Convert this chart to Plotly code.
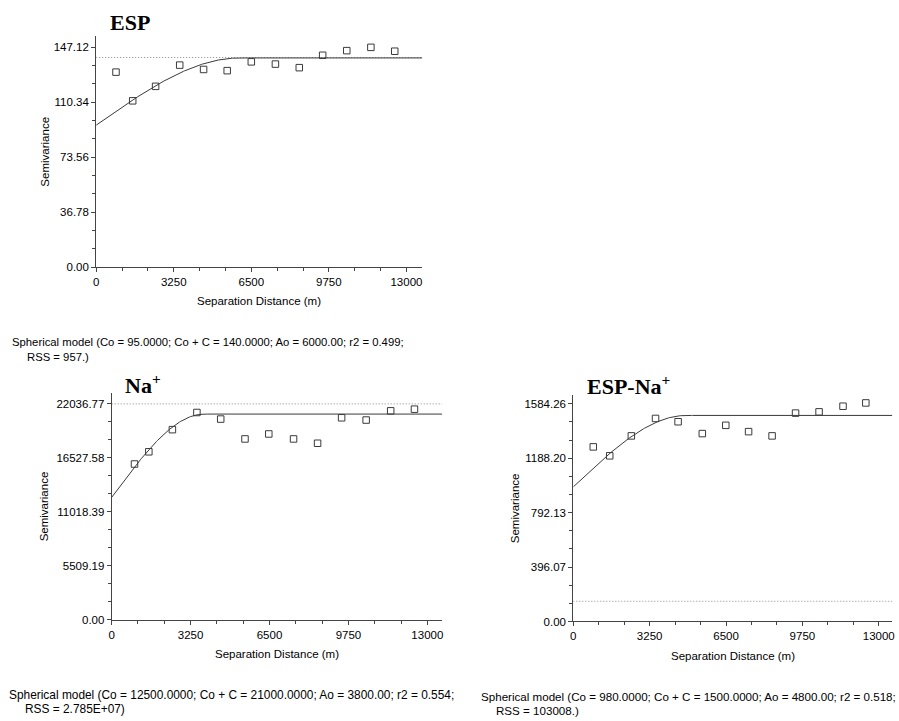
import numpy as np
import plotly.graph_objects as go

W, H = 899, 721

# ---- data ----
esp_lag = [830, 1530, 2490, 3500, 4500, 5490, 6500, 7510, 8510, 9490, 10500, 11510, 12510]
esp_gamma = [130.5, 111.3, 121.0, 135.2, 132.3, 131.5, 137.4, 135.9, 133.5, 141.8, 144.9, 147.1, 144.5]

na_lag = [940, 1530, 2500, 3510, 4490, 5490, 6470, 7490, 8480, 9470, 10480, 11490, 12470]
na_gamma = [15900, 17150, 19410, 21160, 20490, 18460, 18970, 18460, 18020, 20620, 20390, 21330, 21500]

espna_lag = [850, 1550, 2470, 3500, 4460, 5490, 6490, 7460, 8460, 9460, 10460, 11480, 12450]
espna_gamma = [1271, 1206, 1351, 1478, 1454, 1368, 1428, 1382, 1351, 1517, 1526, 1567, 1591]

# model parameters (from captions): nugget Co, sill Co+C, range Ao
esp_model = (95.0, 140.0, 6000.0)
na_model = (12500.0, 21000.0, 3800.0)
espna_model = (980.0, 1500.0, 4800.0)

# sample variance (dotted line)
esp_var = 140.3
na_var = 22040.0
espna_var = 147.0

x_ticks = [0, 3250, 6500, 9750, 13000]
esp_yticks = [0.00, 36.78, 73.56, 110.34, 147.12]
na_yticks = [0.00, 5509.19, 11018.39, 16527.58, 22036.77]
espna_yticks = [0.00, 396.07, 792.13, 1188.20, 1584.26]

titles = ["ESP", "Na<sup>+</sup>", "ESP-Na<sup>+</sup>"]
captions = [
    ("Spherical model (Co = 95.0000; Co + C = 140.0000; Ao = 6000.00; r2 = 0.499;", "RSS = 957.)"),
    ("Spherical model (Co = 12500.0000; Co + C = 21000.0000; Ao = 3800.00; r2 = 0.554;", "RSS = 2.785E+07)"),
    ("Spherical model (Co = 980.0000; Co + C = 1500.0000; Ao = 4800.00; r2 = 0.518;", "RSS = 103008.)"),
]

# ---- layout geometry (pixels) ----
panels = [
    dict(lag=esp_lag, g=esp_gamma, model=esp_model, var=esp_var, yt=esp_yticks,
         px=(93.7, 421.7), py=(36, 269.3), xmax=13667, ymax=154.9,
         title_xy=(106, 23), cap=(7, 344.5, 22, 359.5), capsize=11.3, ylab_x=42.5, xlab_y=303.5),
    dict(lag=na_lag, g=na_gamma, model=na_model, var=na_var, yt=na_yticks,
         px=(109.3, 441.7), py=(396.7, 625), xmax=13614, ymax=23110,
         title_xy=(121, 387), cap=(4, 701, 20, 714.5), capsize=11.9, ylab_x=41, xlab_y=659.5),
    dict(lag=espna_lag, g=espna_gamma, model=espna_model, var=espna_var, yt=espna_yticks,
         px=(573.5, 894.3), py=(398, 626.7), xmax=13578, ymax=1651,
         title_xy=(585, 388), cap=(478.5, 702.5, 493.5, 716), capsize=11.6, ylab_x=515, xlab_y=661.5),
]

fig = go.Figure()
SANS = "Liberation Sans, Arial, sans-serif"
annotations = []

for i, p in enumerate(panels):
    n = "" if i == 0 else str(i + 1)
    xa, ya = "x" + n, "y" + n
    c0, sill, a = p["model"]
    h = np.linspace(0, p["xmax"], 400)
    r = np.minimum(h / a, 1.0)
    gam = c0 + (sill - c0) * (1.5 * r - 0.5 * r ** 3)

    fig.add_trace(go.Scatter(x=[0, p["xmax"]], y=[p["var"], p["var"]], mode="lines",
                             line=dict(color="#8a8a8a", width=1, dash="1px,2px"),
                             xaxis=xa, yaxis=ya, showlegend=False, hoverinfo="skip"))
    fig.add_trace(go.Scatter(x=h, y=gam, mode="lines",
                             line=dict(color="#3a3a3a", width=1),
                             xaxis=xa, yaxis=ya, showlegend=False))
    fig.add_trace(go.Scatter(x=p["lag"], y=p["g"], mode="markers",
                             marker=dict(symbol="square-open", size=6.5, color="#3a3a3a",
                                         line=dict(width=1, color="#3a3a3a")),
                             xaxis=xa, yaxis=ya, showlegend=False))

    xd = [p["px"][0] / W, p["px"][1] / W]
    yd = [1 - p["py"][1] / H, 1 - p["py"][0] / H]
    xstep = 3250 / 3
    ystep = p["yt"][1] / 3
    fig.update_layout(**{
        ("xaxis" + n): dict(domain=xd, anchor=ya, range=[0, p["xmax"]],
                            tickvals=x_ticks, ticktext=[str(v) for v in x_ticks],
                            showline=True, linecolor="#444", linewidth=1,
                            ticks="outside", ticklen=4, tickcolor="#444",
                            minor=dict(tickvals=[k * xstep for k in range(1, 13) if k % 3 != 0],
                                       ticks="outside", ticklen=3, tickcolor="#444"),
                            showgrid=False, zeroline=False,
                            tickfont=dict(family=SANS, size=11.5, color="black")),
        ("yaxis" + n): dict(domain=yd, anchor=xa, range=[0, p["ymax"]],
                            tickvals=p["yt"], ticktext=["%.2f" % v for v in p["yt"]],
                            showline=True, linecolor="#444", linewidth=1,
                            ticks="outside", ticklen=4, tickcolor="#444",
                            minor=dict(tickvals=[k * ystep for k in range(1, 13) if k % 3 != 0],
                                       ticks="outside", ticklen=3, tickcolor="#444"),
                            showgrid=False, zeroline=False,
                            tickfont=dict(family=SANS, size=11.5, color="black")),
    })

    # panel title
    tx, ty = p["title_xy"]
    annotations.append(dict(text="<b>" + titles[i] + "</b>", x=tx / W, y=1 - ty / H,
                            xref="paper", yref="paper", xanchor="left", yanchor="middle",
                            showarrow=False,
                            font=dict(family="Liberation Serif, Times New Roman, serif", size=22, color="black")))
    # axis titles
    annotations.append(dict(text="Separation Distance (m)", x=(p["px"][0] + p["px"][1]) / 2 / W,
                            y=1 - p["xlab_y"] / H, xref="paper", yref="paper",
                            xanchor="center", yanchor="middle", showarrow=False,
                            font=dict(family=SANS, size=11.5, color="black")))
    annotations.append(dict(text="Semivariance", x=p["ylab_x"] / W,
                            y=1 - (p["py"][0] + p["py"][1]) / 2 / H, xref="paper", yref="paper",
                            xanchor="center", yanchor="middle", showarrow=False, textangle=-90,
                            font=dict(family=SANS, size=11.5, color="black")))
    # caption
    cx1, cy1, cx2, cy2 = p["cap"]
    annotations.append(dict(text=captions[i][0], x=cx1 / W, y=1 - cy1 / H, xref="paper", yref="paper",
                            xanchor="left", yanchor="middle", showarrow=False,
                            font=dict(family=SANS, size=p["capsize"], color="black")))
    annotations.append(dict(text=captions[i][1], x=cx2 / W, y=1 - cy2 / H, xref="paper", yref="paper",
                            xanchor="left", yanchor="middle", showarrow=False,
                            font=dict(family=SANS, size=p["capsize"], color="black")))

fig.update_layout(width=W, height=H, margin=dict(l=0, r=0, t=0, b=0),
                  paper_bgcolor="white", plot_bgcolor="white",
                  annotations=annotations, showlegend=False)

fig.write_html("out.html")
